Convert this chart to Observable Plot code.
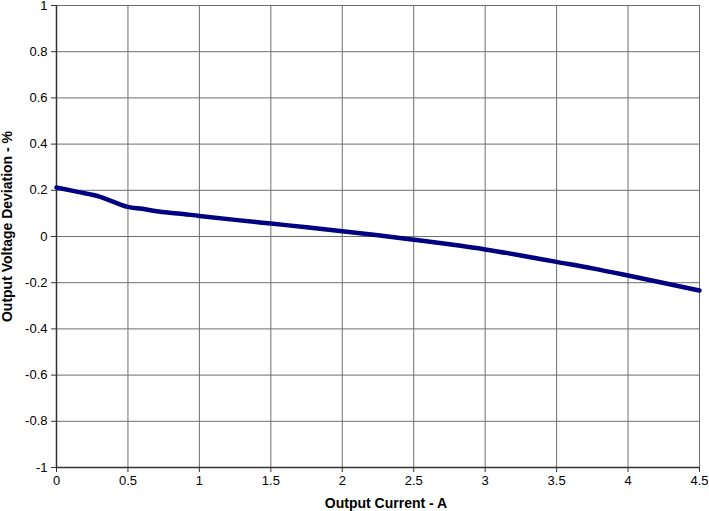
<!DOCTYPE html>
<html>
<head>
<meta charset="utf-8">
<script src="https://cdn.jsdelivr.net/npm/d3@7"></script>
<script src="https://cdn.jsdelivr.net/npm/@observablehq/plot@0.6"></script>
<style>
  html, body { margin: 0; padding: 0; background: #fff; }
  #chart svg { display: block; overflow: visible; }
</style>
</head>
<body>
<div id="chart"></div>
<script>
const currentA = [0, 0.15, 0.3, 0.4, 0.5, 0.6, 0.7, 0.85, 1.0, 1.25, 1.5, 1.75, 2.0, 2.25, 2.5, 2.75, 3.0, 3.25, 3.5, 3.75, 4.0, 4.25, 4.5];
const deviationPct = [0.212, 0.193, 0.173, 0.150, 0.128, 0.120, 0.109, 0.100, 0.089, 0.072, 0.056, 0.040, 0.023, 0.005, -0.014, -0.034, -0.056, -0.082, -0.110, -0.138, -0.169, -0.201, -0.234];
const xTicks = [0, 0.5, 1, 1.5, 2, 2.5, 3, 3.5, 4, 4.5];
const yTicks = [-1, -0.8, -0.6, -0.4, -0.2, 0, 0.2, 0.4, 0.6, 0.8, 1];

const data = currentA.map((x, i) => ({x, y: deviationPct[i]}));

const chart = Plot.plot({
  width: 709,
  height: 511,
  marginLeft: 56,
  marginRight: 10,
  marginTop: 5,
  marginBottom: 44,
  style: {fontFamily: "'Liberation Sans', Arial, sans-serif", fontSize: "13px", color: "#000", background: "#fff"},
  x: {domain: [0, 4.5], ticks: xTicks, tickFormat: d => String(d), label: null},
  y: {domain: [-1, 1], ticks: yTicks, tickFormat: d => String(d), label: null},
  marks: [
    Plot.ruleX(xTicks, {stroke: "#6e6e6e", strokeWidth: 1}),
    Plot.ruleY(yTicks, {stroke: "#6e6e6e", strokeWidth: 1}),
    Plot.ruleX([0], {stroke: "#333", strokeWidth: 1.5}),
    Plot.ruleY([-1], {stroke: "#333", strokeWidth: 1.5}),
    Plot.axisX({ticks: xTicks, tickFormat: d => String(d), tickSize: 5, tickPadding: 3, fontSize: 13, label: null, stroke: "#333"}),
    Plot.axisY({ticks: yTicks, tickFormat: d => String(d), tickSize: 5, tickPadding: 4, fontSize: 13, label: null, stroke: "#333"}),
    Plot.text(["Output Current - A"], {frameAnchor: "bottom", dx: 8, dy: 40, fontWeight: "bold", fontSize: 14, fill: "#000", lineAnchor: "bottom"}),
    Plot.text(["Output Voltage Deviation - %"], {frameAnchor: "left", textAnchor: "middle", dx: -49, dy: -10, rotate: -90, fontWeight: "bold", fontSize: 14, fill: "#000"}),
    Plot.line(data, {x: "x", y: "y", stroke: "#000080", strokeWidth: 4.5, curve: "monotone-x"})
  ]
});

document.getElementById("chart").appendChild(chart);
</script>
</body>
</html>
